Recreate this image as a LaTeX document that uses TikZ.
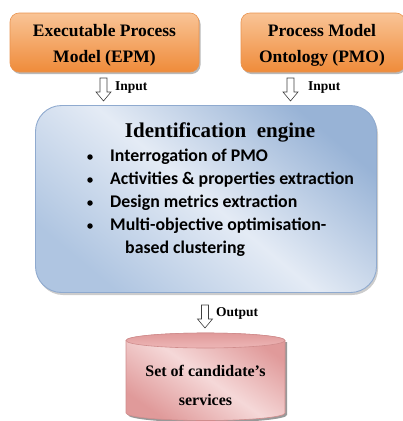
\documentclass[tikz,border=0pt]{standalone}
\usepackage{fontspec}
\setmainfont{Liberation Serif}
\newfontfamily\bodysans{Carlito}
\usetikzlibrary{shadows}

\definecolor{orangetop}{HTML}{F9C496}
\definecolor{orangebot}{HTML}{EF8B3A}
\definecolor{orangeedge}{HTML}{E9934F}
\definecolor{bluelight}{HTML}{E4EBF5}
\definecolor{bluemid}{HTML}{AFC5E1}
\definecolor{bluedark}{HTML}{98B3D6}
\definecolor{blueedge}{HTML}{8FAACF}
\definecolor{pinkdark}{HTML}{E09A9A}
\definecolor{pinklight}{HTML}{F5D8D8}
\definecolor{pinkend}{HTML}{EDB6B6}
\definecolor{pinkedge}{HTML}{D08D8D}

\tikzset{
  sourcebox/.style={draw=orangeedge, line width=0.6pt, rounded corners=9pt,
    top color=orangetop, bottom color=orangebot,
    drop shadow={shadow xshift=1.5pt, shadow yshift=-2pt, fill=black!55},
    align=center, inner sep=0pt},
  boxtext/.style={align=center, font=\fontsize{17.5}{26}\selectfont\bfseries, inner sep=0pt},
  hollowdown/.pic={
    \draw[draw=black!75, fill=white, line width=0.6pt]
      (-3.5,0) -- (-3.5,-14) -- (-7.5,-14) -- (0,-23) -- (7.5,-14)
      -- (3.5,-14) -- (3.5,0) -- cycle;},
  arrowlabel/.style={font=\fontsize{13.5}{15}\selectfont\bfseries, anchor=west, inner sep=0pt},
  bulletline/.style={font=\bodysans\fontsize{17.8}{20}\selectfont\bfseries, anchor=west, inner sep=0pt},
  bulletdot/.style={circle, fill=black, inner sep=0pt, minimum size=5.5pt},
}

\begin{document}
\begin{tikzpicture}[x=1pt,y=1pt]
\useasboundingbox (0,0) rectangle (403,-421);

% input models
\node[sourcebox, minimum width=189pt, minimum height=59pt] (epm) at (104.5,-42.5) {};
\node[boxtext] (epmtext) at (104.5,-45) {Executable Process\\Model (EPM)};
\node[sourcebox, minimum width=164pt, minimum height=59pt] (pmo) at (323,-42.5) {};
\node[boxtext] (pmotext) at (322,-45) {Process Model\\Ontology (PMO)};

% identification engine (the middle colour must be set after top/bottom)
\node[draw=blueedge, line width=0.9pt, rounded corners=26pt,
  top color=bluedark, bottom color=bluemid, middle color=bluelight, shading angle=-40,
  drop shadow={shadow xshift=1.5pt, shadow yshift=-2.5pt, fill=black!40},
  minimum width=341pt, minimum height=187pt] (engine) at (206,-199) {};
\node[font=\fontsize{21}{24}\selectfont\bfseries, inner sep=0pt] (title) at (220,-132)
  {Identification\ \ engine};
\foreach \y/\t [count=\i] in {-157/Interrogation of PMO,
    -180/Activities \& properties extraction,
    -203/Design metrics extraction,
    -226/Multi-objective optimisation-} {
  \node[bulletdot] (dot\i) at (90,\y) {};
  \node[bulletline] (item\i) at (110,\y) {\t};
}
\node[bulletline] (item5) at (125,-249) {based clustering};

% block arrows between the stages
\coordinate (in1) at (103.5,-78);
\coordinate (in2) at (290.5,-78);
\coordinate (out) at (205,-305);
\pic at (in1) {hollowdown};
\pic at (in2) {hollowdown};
\pic at (out) {hollowdown};
\node[arrowlabel] (lab1) at (115,-88) {Input};
\node[arrowlabel] (lab2) at (308,-88) {Input};
\node[arrowlabel] (lab3) at (216,-313) {Output};

% output store drawn as a cylinder
\fill[black!40] (128,-342) -- (128,-415) arc (180:360:79.5 and 7.5)
  -- (287,-342) -- cycle;
\path[draw=pinkedge, line width=0.6pt, top color=pinkdark, bottom color=pinkdark,
  middle color=pinklight, shading angle=-35]
  (126,-340.5) -- (126,-413) arc (180:360:79.5 and 7.5)
  -- (285,-340.5) arc (0:180:79.5 and 7.5) -- cycle;
\path[draw=pinkedge, line width=0.6pt, top color=pinkdark, bottom color=pinkend]
  (205.5,-340.5) ellipse (79.5 and 7.5);
\node[align=center, font=\fontsize{16}{29}\selectfont\bfseries, inner sep=0pt]
  (store) at (205.5,-385) {Set of candidate’s\\services};
\end{tikzpicture}
\end{document}
